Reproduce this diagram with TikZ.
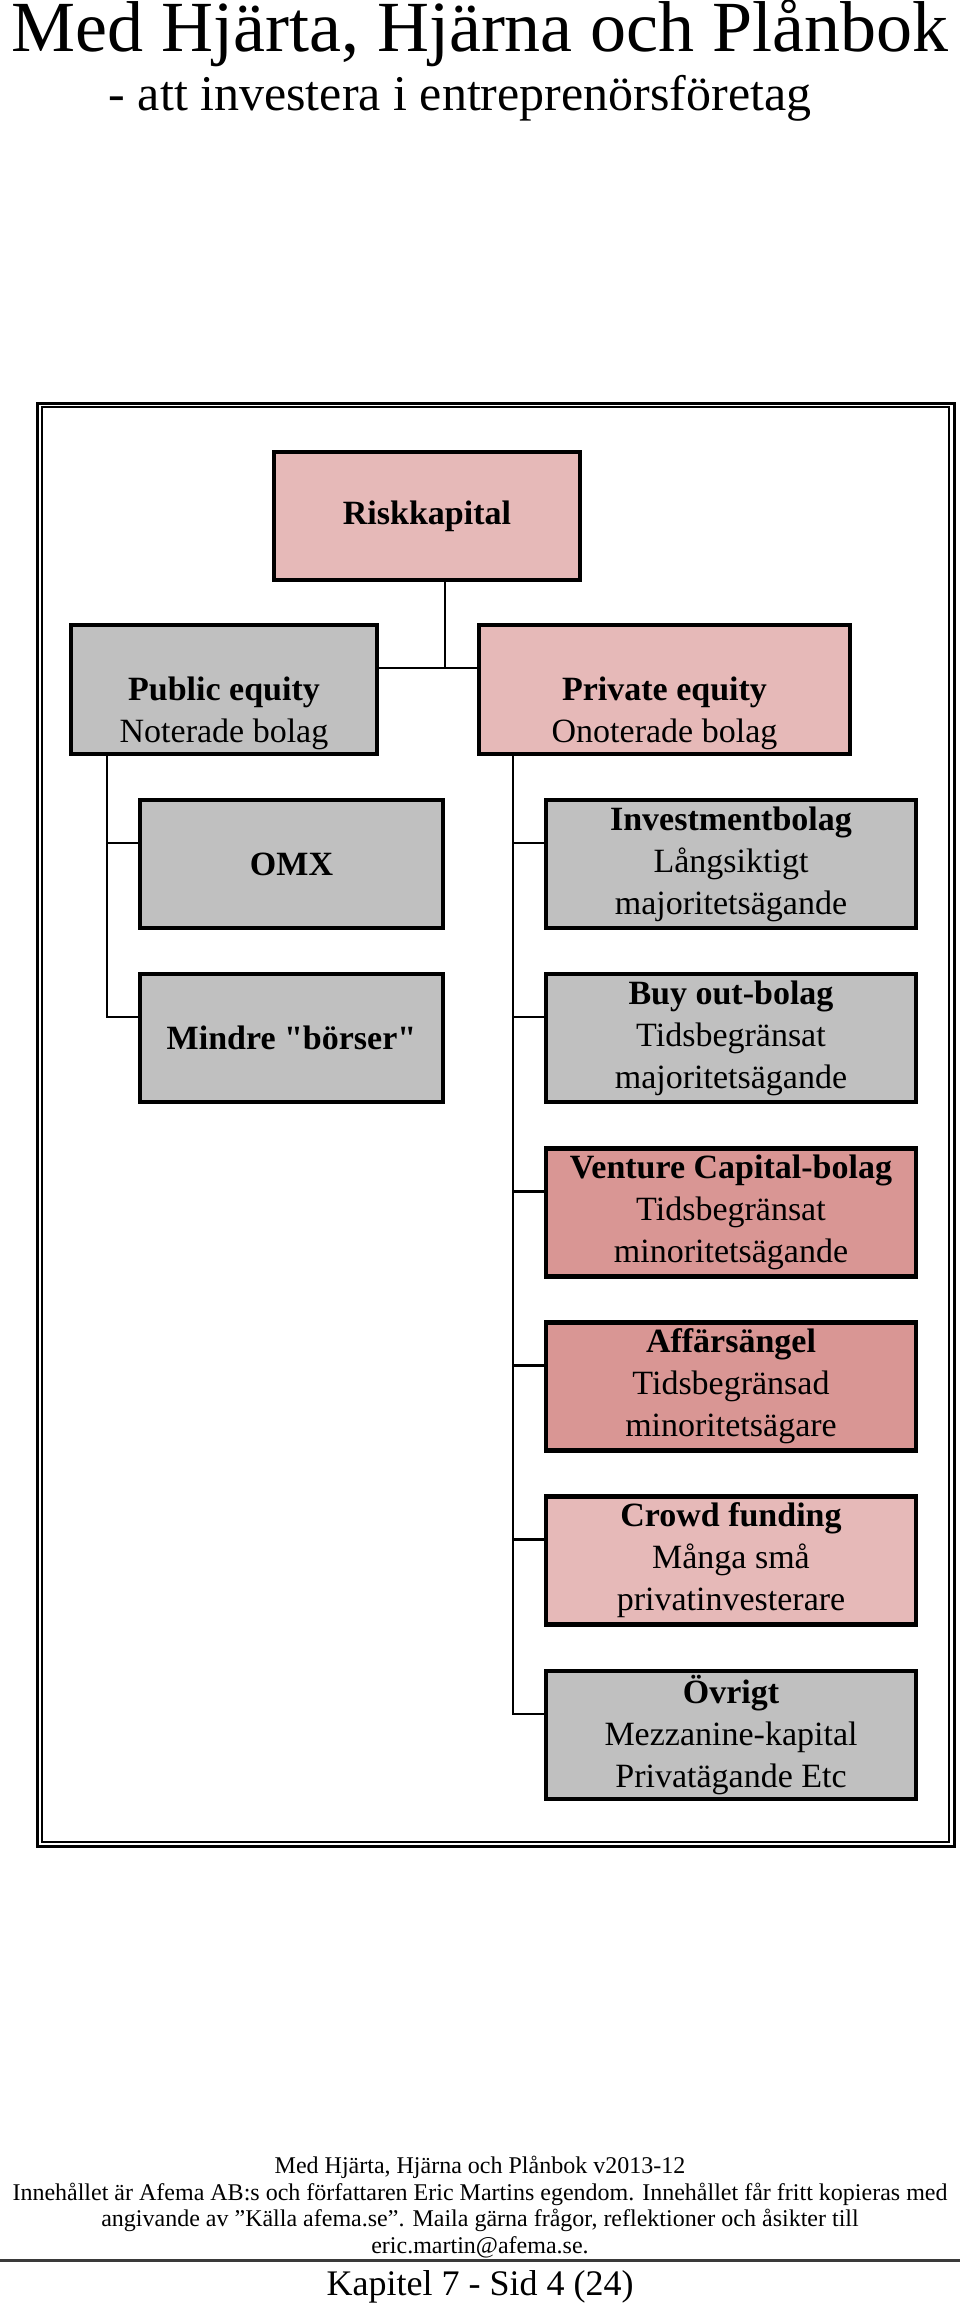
\documentclass[tikz,border=0pt]{standalone}
\usepackage{fontspec}
\setmainfont{Liberation Serif}[Ligatures=TeXOff]
\usepackage{tikz}

\definecolor{rosa}{HTML}{E6B9B8}
\definecolor{rod}{HTML}{D99694}
\definecolor{gra}{HTML}{C0C0C0}
\definecolor{linje}{HTML}{3A3A3A}
\newcommand{\kortfont}{\fontsize{34}{42}\selectfont}

\begin{document}
\begin{tikzpicture}[x=1pt,y=-1pt]
						\tikzstyle{every node}=[inner sep=0pt]
						\tikzstyle{kort}=[draw,rectangle,line width=4.5pt,align=center,font=\kortfont]
						\tikzstyle{grakort}=[kort,fill=gra]
						\tikzstyle{rosakort}=[kort,fill=rosa]
						\tikzstyle{rodkort}=[kort,fill=rod]
						\tikzstyle{gren}=[line width=2.3pt]
						
						\path[use as bounding box,fill=white] (0,0) rectangle (960,2307);
						
						% rubrik
						\node[anchor=base,font=\fontsize{72}{80}\selectfont] (rubrik) at (480,52) {Med Hjärta, Hjärna och Plånbok};
						\node[anchor=base,font=\fontsize{50}{56}\selectfont] (underrubrik) at (460,110) {- att investera i entreprenörsföretag};
						
						% ram
						\draw[line width=3pt] (37.3,403.5) rectangle (954,1846.5);
						\draw[line width=2pt] (42,407) rectangle (949.3,1842);
						
						\node[rosakort,minimum width=306pt,minimum height=128pt] (risk) at (427,516) {\textbf{Riskkapital}};
						\node[grakort,minimum width=306pt,minimum height=129pt] (public) at (224,689.5) {\strut\\\textbf{Public equity}\\Noterade bolag};
						\node[rosakort,minimum width=371pt,minimum height=129pt] (private) at (664.5,689.5) {\strut\\\textbf{Private equity}\\Onoterade bolag};
						
						\node[grakort,minimum width=303pt,minimum height=128pt] (omx) at (291.5,864) {\textbf{OMX}};
						\node[grakort,minimum width=303pt,minimum height=128pt] (mindre) at (291.5,1038) {\textbf{Mindre "börser"}};
						
						\node[grakort,minimum width=370pt,minimum height=128pt] (invest) at (731,864) {\textbf{Investmentbolag}\\Långsiktigt\\majoritetsägande};
						\node[grakort,minimum width=370pt,minimum height=128pt] (buyout) at (731,1038) {\textbf{Buy out-bolag}\\Tidsbegränsat\\majoritetsägande};
						\node[rodkort,minimum width=370pt,minimum height=128pt] (venture) at (731,1212.5) {\textbf{Venture Capital-bolag}\\Tidsbegränsat\\minoritetsägande};
						\node[rodkort,minimum width=370pt,minimum height=128pt] (angel) at (731,1386.5) {\textbf{Affärsängel}\\Tidsbegränsad\\minoritetsägare};
						\node[rosakort,minimum width=370pt,minimum height=128pt] (crowd) at (731,1560.5) {\textbf{Crowd funding}\\Många små\\privatinvesterare};
						\node[grakort,minimum width=370pt,minimum height=128pt] (ovrigt) at (731,1735) {\textbf{Övrigt}\\Mezzanine-kapital\\Privatägande Etc};
						
						% grenar
						\coordinate (fork) at (445,668);
						\coordinate (vstam) at ([xshift=38pt]public.south west);
						\coordinate (hstam) at ([xshift=36pt]private.south west);
						\draw[gren] (risk.south -| fork) -- (fork);
						\draw[gren] (public.east |- fork) -- (private.west |- fork);
						\draw[gren] (vstam) |- ([yshift=21pt]omx.west);
						\draw[gren] (vstam) |- ([yshift=21pt]mindre.west);
						\draw[gren] (hstam) |- ([yshift=21pt]invest.west);
						\draw[gren] (hstam) |- ([yshift=21pt]buyout.west);
						\draw[gren] (hstam) |- ([yshift=21pt]venture.west);
						\draw[gren] (hstam) |- ([yshift=21pt]angel.west);
						\draw[gren] (hstam) |- ([yshift=21pt]crowd.west);
						\draw[gren] (hstam) |- ([yshift=21pt]ovrigt.west);
						
						% sidfot
						\node[align=center,font=\fontsize{24}{26.8}\selectfont] (sidfot) at (480,2207) {Med Hjärta, Hjärna och Plånbok v2013-12\\Innehållet är Afema AB:s och författaren Eric Martins egendom. Innehållet får fritt kopieras med\\angivande av ”Källa afema.se”. Maila gärna frågor, reflektioner och åsikter till\\eric.martin@afema.se.};
						\draw[line width=3pt,linje] (0,2260) -- (960,2260);
						\node[anchor=base,font=\fontsize{36}{40}\selectfont] (kapitel) at (480,2295) {Kapitel 7 - Sid 4 (24)};
						
						\end{tikzpicture}
\end{document}
